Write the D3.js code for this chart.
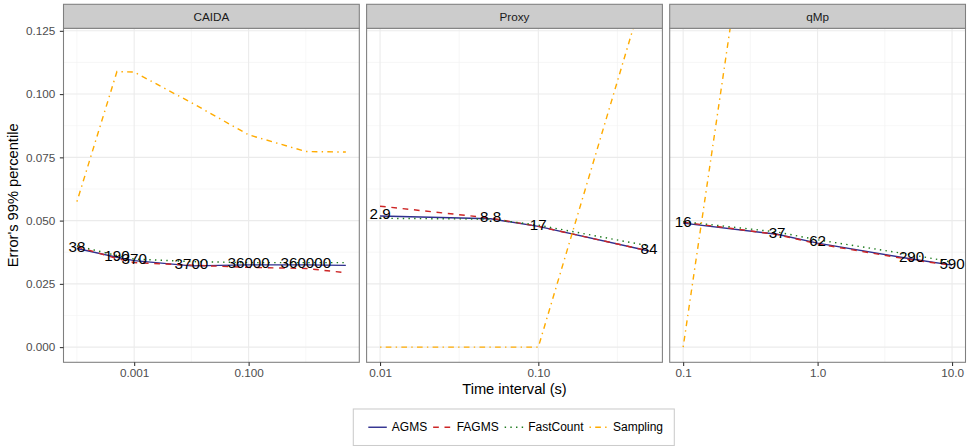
<!DOCTYPE html>
<html>
<head>
<meta charset="utf-8">
<script src="https://cdn.jsdelivr.net/npm/d3@7"></script>
<style>
  html, body { margin: 0; padding: 0; background: #ffffff; }
  svg { display: block; font-family: "Liberation Sans", Arial, Helvetica, sans-serif; }
</style>
</head>
<body>
<svg id="chart" width="971" height="446"></svg>
<script>
// ---- data -------------------------------------------------------------
const seriesNames = ["AGMS", "FAGMS", "FastCount", "Sampling"];

// CAIDA trace
const caidaInterval = [0.0001, 0.0005, 0.001, 0.01, 0.1, 1, 5];
const caidaCount    = ["38", "190", "370", "3700", "36000", "360000", null];
const caidaAGMS      = [0.0390, 0.0355, 0.0342, 0.0321, 0.0325, 0.0325, 0.0323];
const caidaFAGMS     = [0.0397, 0.0350, 0.0334, 0.0324, 0.0315, 0.0311, 0.0294];
const caidaFastCount = [0.0400, 0.0362, 0.0348, 0.0338, 0.0334, 0.0334, 0.0334];
const caidaSampling  = [0.0575, 0.1089, 0.1087, 0.0966, 0.0839, 0.0773, 0.0771];

// Proxy trace
const proxyInterval = [0.01, 0.05, 0.1, 0.5];
const proxyCount    = ["2.9", "8.8", "17", "84"];
const proxyAGMS      = [0.0518, 0.0507, 0.0477, 0.0380];
const proxyFAGMS     = [0.0557, 0.0510, 0.0477, 0.0380];
const proxyFastCount = [0.0509, 0.0506, 0.0482, 0.0400];
const proxySampling  = [0.0, 0.0, 0.0, 0.147];

// qMp trace
const qmpInterval = [0.1, 0.5, 1, 5, 10];
const qmpCount    = ["16", "37", "62", "290", "590"];
const qmpAGMS      = [0.0490, 0.0446, 0.0411, 0.0348, 0.0324];
const qmpFAGMS     = [0.0494, 0.0445, 0.0408, 0.0345, 0.0324];
const qmpFastCount = [0.0496, 0.0455, 0.0424, 0.0365, 0.0336];
const qmpSampling  = [0.0, 0.252, null, null, null];

// axis ticks
const yTicks = [0, 0.025, 0.05, 0.075, 0.1, 0.125];
const caidaTicks = [0.001, 0.1];
const caidaTickLabels = ["0.001", "0.100"];
const proxyTicks = [0.01, 0.1];
const proxyTickLabels = ["0.01", "0.10"];
const qmpTicks = [0.1, 1, 10];
const qmpTickLabels = ["0.1", "1.0", "10.0"];
const yLimits = [0, 0.12];

// ---- assembled facets --------------------------------------------------
const facets = [
  { name: "CAIDA", x: caidaInterval, count: caidaCount,
    values: [caidaAGMS, caidaFAGMS, caidaFastCount, caidaSampling],
    ticks: caidaTicks, tickLabels: caidaTickLabels },
  { name: "Proxy", x: proxyInterval, count: proxyCount,
    values: [proxyAGMS, proxyFAGMS, proxyFastCount, proxySampling],
    ticks: proxyTicks, tickLabels: proxyTickLabels },
  { name: "qMp", x: qmpInterval, count: qmpCount,
    values: [qmpAGMS, qmpFAGMS, qmpFastCount, qmpSampling],
    ticks: qmpTicks, tickLabels: qmpTickLabels }
];

// ---- styling -----------------------------------------------------------
const colors = { AGMS: "#2f2f8f", FAGMS: "#cd2626", FastCount: "#1e7b1e", Sampling: "#ffab00" };
const lw = 1.42;
const dashes = { AGMS: null, FAGMS: [4, 4], FastCount: [1, 3], Sampling: [1, 3, 4, 3] };
const dashStr = k => dashes[k] ? dashes[k].map(d => d * lw).join(",") : null;

// ---- layout ------------------------------------------------------------
const svg = d3.select("#chart");
const plotLeft = 63.5, plotRight = 965.5, panelGap = 7.3;
const stripTop = 4.3, stripH = 24;
const panelTop = stripTop + stripH, panelBottom = 362.3;
const panelW = (plotRight - plotLeft - 2 * panelGap) / 3;
const tickLen = 3.67;
const tickColor = "#333333", tickTextColor = "#4d4d4d", borderColor = "#7f7f7f";

svg.append("rect").attr("width", 971).attr("height", 446).attr("fill", "#ffffff");

// y scale: limits expanded by 5% on each side
const ySpan = yLimits[1] - yLimits[0];
const y = d3.scaleLinear()
  .domain([yLimits[0] - 0.05 * ySpan, yLimits[1] + 0.05 * ySpan])
  .range([panelBottom, panelTop]);
const yMinor = d3.range(0.0125, 0.13, 0.025);

facets.forEach((f, i) => {
  const left = plotLeft + i * (panelW + panelGap);
  const right = left + panelW;

  // log x scale, data range expanded by 5% in log space
  const lo = Math.log10(d3.min(f.x)), hi = Math.log10(d3.max(f.x));
  const pad = 0.05 * (hi - lo);
  const x = d3.scaleLog().domain([10 ** (lo - pad), 10 ** (hi + pad)]).range([left, right]);

  // minor breaks half-way (in log space) between major breaks
  const lt = f.ticks.map(Math.log10);
  const step = lt.length > 1 ? lt[1] - lt[0] : 1;
  const minor = [];
  for (let k = -1; k < lt.length; k++) minor.push(10 ** (lt[0] + (k + 0.5) * step));
  const [d0, d1] = x.domain();
  const minorIn = minor.filter(v => v >= d0 && v <= d1);

  const g = svg.append("g");
  g.append("rect").attr("x", left).attr("y", panelTop).attr("width", panelW)
    .attr("height", panelBottom - panelTop).attr("fill", "#ffffff");

  // grid
  g.selectAll(".ymin").data(yMinor).join("line")
    .attr("x1", left).attr("x2", right).attr("y1", d => y(d)).attr("y2", d => y(d))
    .attr("stroke", "#f4f4f4").attr("stroke-width", 0.7);
  g.selectAll(".xmin").data(minorIn).join("line")
    .attr("x1", d => x(d)).attr("x2", d => x(d)).attr("y1", panelTop).attr("y2", panelBottom)
    .attr("stroke", "#f4f4f4").attr("stroke-width", 0.7);
  g.selectAll(".ymaj").data(yTicks).join("line")
    .attr("x1", left).attr("x2", right).attr("y1", d => y(d)).attr("y2", d => y(d))
    .attr("stroke", "#ebebeb").attr("stroke-width", 1.07);
  g.selectAll(".xmaj").data(f.ticks).join("line")
    .attr("x1", d => x(d)).attr("x2", d => x(d)).attr("y1", panelTop).attr("y2", panelBottom)
    .attr("stroke", "#ebebeb").attr("stroke-width", 1.07);

  // clipped series lines
  const clipId = "clip" + i;
  svg.append("clipPath").attr("id", clipId).append("rect")
    .attr("x", left).attr("y", panelTop).attr("width", panelW).attr("height", panelBottom - panelTop);
  const lines = g.append("g").attr("clip-path", `url(#${clipId})`);
  const line = d3.line().defined(d => d[1] != null).x(d => x(d[0])).y(d => y(d[1]));
  seriesNames.forEach((s, si) => {
    const pts = f.x.map((xv, j) => [xv, f.values[si][j]]);
    lines.append("path").attr("d", line(pts)).attr("fill", "none")
      .attr("stroke", colors[s]).attr("stroke-width", lw)
      .attr("stroke-dasharray", dashStr(s));
  });

  // count labels at the AGMS points
  g.selectAll(".lbl").data(f.x.map((xv, j) => ({ xv, yv: f.values[0][j], t: f.count[j] }))
      .filter(d => d.t != null))
    .join("text")
    .attr("x", d => x(d.xv)).attr("y", d => y(d.yv)).attr("dy", "-0.14em")
    .attr("text-anchor", "middle").attr("dominant-baseline", "central")
    .attr("font-size", 15.2).attr("fill", "#000000").text(d => d.t);

  // panel border
  g.append("rect").attr("x", left).attr("y", panelTop).attr("width", panelW)
    .attr("height", panelBottom - panelTop).attr("fill", "none")
    .attr("stroke", borderColor).attr("stroke-width", 1.07);

  // strip
  g.append("rect").attr("x", left).attr("y", stripTop).attr("width", panelW).attr("height", stripH)
    .attr("fill", "#cccccc").attr("stroke", borderColor).attr("stroke-width", 1.07);
  g.append("text").attr("x", (left + right) / 2).attr("y", stripTop + stripH / 2)
    .attr("text-anchor", "middle").attr("dominant-baseline", "central")
    .attr("font-size", 11.73).attr("fill", "#1a1a1a").text(f.name);

  // x axis
  const xa = svg.append("g").attr("transform", `translate(0,${panelBottom})`)
    .call(d3.axisBottom(x).tickValues(f.ticks).tickFormat((d, k) => f.tickLabels[k])
      .tickSizeInner(tickLen).tickSizeOuter(0).tickPadding(2.9));
  xa.select(".domain").remove();
  xa.selectAll(".tick line").attr("stroke", tickColor).attr("stroke-width", 1.07);
  xa.selectAll(".tick text").attr("fill", tickTextColor).attr("font-size", 11.73)
    .attr("font-family", "'Liberation Sans', Arial, Helvetica, sans-serif");

  // y axis on the first panel only
  if (i === 0) {
    const ya = svg.append("g").attr("transform", `translate(${left},0)`)
      .call(d3.axisLeft(y).tickValues(yTicks).tickFormat(d3.format(".3f"))
        .tickSizeInner(tickLen).tickSizeOuter(0).tickPadding(4.5));
    ya.select(".domain").remove();
    ya.selectAll(".tick line").attr("stroke", tickColor).attr("stroke-width", 1.07);
    ya.selectAll(".tick text").attr("fill", tickTextColor).attr("font-size", 11.73)
      .attr("font-family", "'Liberation Sans', Arial, Helvetica, sans-serif");
  }
});

// axis titles
svg.append("text").attr("x", (plotLeft + plotRight) / 2).attr("y", 394)
  .attr("text-anchor", "middle").attr("font-size", 14.67).attr("fill", "#000000")
  .text("Time interval (s)");
svg.append("text")
  .attr("transform", `translate(18,${(panelTop + panelBottom) / 2}) rotate(-90)`)
  .attr("text-anchor", "middle").attr("font-size", 14.67).attr("fill", "#000000")
  .text("Error's 99% percentile");

// legend
const legBox = { x: 353.3, y: 409, w: 321, h: 36.5 };
svg.append("rect").attr("x", legBox.x).attr("y", legBox.y).attr("width", legBox.w)
  .attr("height", legBox.h).attr("fill", "#ffffff").attr("stroke", "#cccccc").attr("stroke-width", 1.07);
const legY = legBox.y + legBox.h / 2;
let cx = legBox.x + 15;
const keyW = 18.5;
seriesNames.forEach(s => {
  svg.append("line").attr("x1", cx).attr("x2", cx + keyW).attr("y1", legY).attr("y2", legY)
    .attr("stroke", colors[s]).attr("stroke-width", lw).attr("stroke-dasharray", dashStr(s));
  const t = svg.append("text").attr("x", cx + keyW + 5).attr("y", legY)
    .attr("dominant-baseline", "central").attr("font-size", 12).attr("fill", "#000000").text(s);
  cx += keyW + 5 + t.node().getComputedTextLength() + 6;
});
</script>
</body>
</html>
